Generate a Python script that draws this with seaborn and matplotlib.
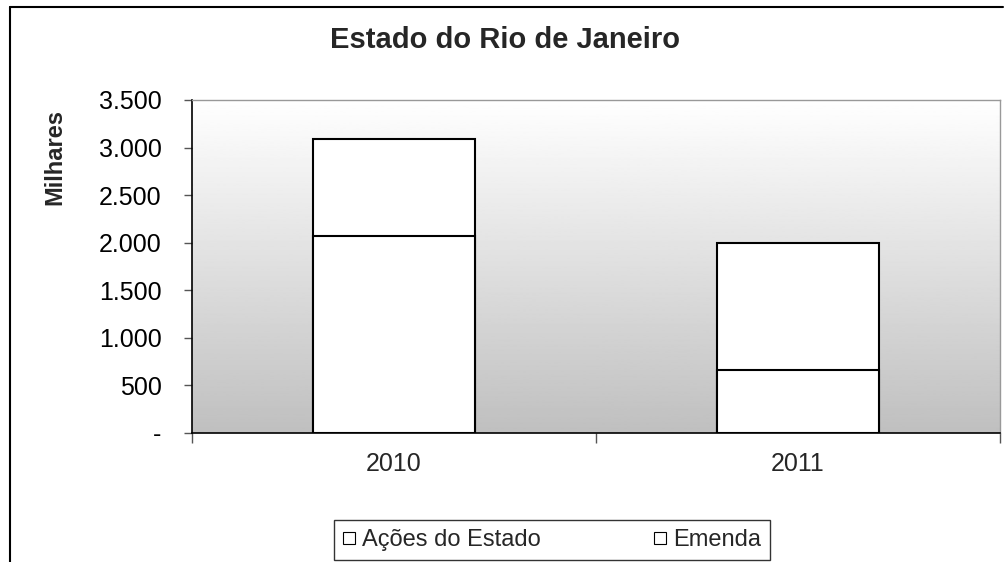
import numpy as np
import pandas as pd
import matplotlib
matplotlib.use("Agg")
import matplotlib.pyplot as plt
import seaborn as sns
from matplotlib.lines import Line2D
from matplotlib.ticker import FuncFormatter

# data (milhares)
anos = ["2010", "2011"]
acoes_estado = [2072, 667]
emenda = [1014, 1333]
y_ticks = [0, 500, 1000, 1500, 2000, 2500, 3000, 3500]

df = pd.DataFrame({"ano": anos, "acoes": acoes_estado, "emenda": emenda})
df["total"] = df["acoes"] + df["emenda"]

sns.set_theme(style="white")
plt.rcParams["font.family"] = ["Liberation Sans", "DejaVu Sans"]

fig = plt.figure(figsize=(10.06, 5.62), dpi=100)
ax = fig.add_axes([192 / 1006, 1 - 433 / 562, 808 / 1006, 333 / 562])

# gradient background of the plot area
grad = np.linspace(1.0, 0.75, 256).reshape(-1, 1)
ax.imshow(grad, cmap="gray", vmin=0, vmax=1, aspect="auto",
          extent=[-0.5, 1.5, 0, 3500], origin="upper", zorder=0)

# stacked bars: total first (Emenda on top), then Ações do Estado
sns.barplot(data=df, x="ano", y="total", color="white", edgecolor="black",
            linewidth=1.5, width=0.4, saturation=1, ax=ax, zorder=2)
sns.barplot(data=df, x="ano", y="acoes", color="white", edgecolor="black",
            linewidth=1.5, width=0.4, saturation=1, ax=ax, zorder=3)

ax.set_xlim(-0.5, 1.5)
ax.set_ylim(0, 3500)
ax.set_xlabel("")
ax.set_ylabel("")

ax.set_yticks(y_ticks)
ax.yaxis.set_major_formatter(FuncFormatter(
    lambda v, p: "-" if v == 0 else f"{int(v):,}".replace(",", ".")))
ax.tick_params(axis="y", left=True, length=6, width=1, color="#555555",
               pad=16, labelsize=18, labelcolor="black")

# category boundaries as major ticks, labels on minor ticks
ax.set_xticks([-0.5, 0.5, 1.5])
ax.set_xticklabels(["", "", ""])
ax.set_xticks([0, 1], minor=True)
ax.set_xticklabels(anos, minor=True)
ax.tick_params(axis="x", which="major", bottom=True, length=7, width=1,
               color="#555555")
ax.tick_params(axis="x", which="minor", bottom=False, length=0, pad=14,
               labelsize=18)

for s in ["top", "right"]:
    ax.spines[s].set_color("#999999")
    ax.spines[s].set_linewidth(1)
for s in ["left", "bottom"]:
    ax.spines[s].set_color("black")
    ax.spines[s].set_linewidth(1.2)

fig.text(505 / 1006, 1 - 40 / 562, "Estado do Rio de Janeiro",
         ha="center", va="center", fontsize=21, fontweight="bold")
fig.text(55 / 1006, 1 - 205 / 562, "Milhares", rotation=90,
         ha="center", va="bottom", fontsize=17, fontweight="bold")

# legend
handles = [Line2D([], [], marker="s", linestyle="none", markersize=8,
                  markerfacecolor="white", markeredgecolor="black",
                  markeredgewidth=0.8) for _ in range(2)]
leg = fig.legend(handles, ["Ações do Estado", "Emenda"], loc="center",
                 bbox_to_anchor=(552 / 1006, 1 - 540 / 562), ncol=2,
                 fontsize=17, frameon=True, fancybox=False,
                 handlelength=0.5, handletextpad=0.3, columnspacing=4.8,
                 borderpad=0.4, borderaxespad=0)
leg.get_frame().set_edgecolor("black")
leg.get_frame().set_linewidth(1)

# outer chart border (left and top visible)
fig.add_artist(Line2D([10 / 1006, 10 / 1006], [0, 1 - 7 / 562],
                      transform=fig.transFigure, color="black", lw=1.5))
fig.add_artist(Line2D([10 / 1006, 1003 / 1006], [1 - 7 / 562, 1 - 7 / 562],
                      transform=fig.transFigure, color="black", lw=1.5))

fig.savefig("out.png", dpi=100)
